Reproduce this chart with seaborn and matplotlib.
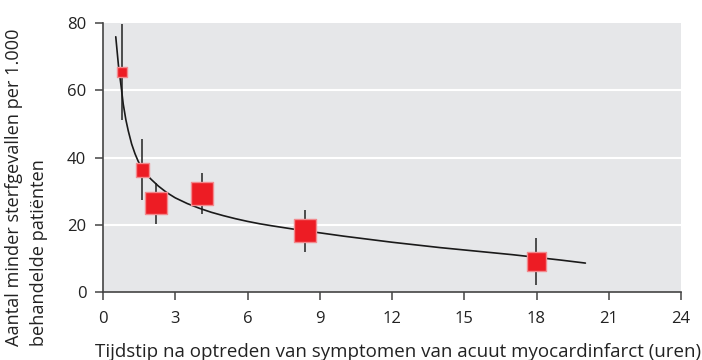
import matplotlib
matplotlib.use("Agg")
import matplotlib.pyplot as plt
import seaborn as sns
import pandas as pd

# Data
hours = [0.79, 1.64, 2.19, 4.12, 8.38, 17.99]
benefit = [65.5, 36.3, 26.4, 29.3, 18.3, 9.1]
ci_low = [51.3, 27.5, 20.3, 23.3, 12.0, 2.1]
ci_high = [79.7, 45.4, 32.5, 35.4, 24.5, 16.2]
study_weight = [7, 10, 16, 16, 16, 13.5]  # relative square size

curve_x = [0.53, 0.64, 0.75, 0.84, 0.95, 1.05, 1.19, 1.33, 1.46, 1.6, 1.8, 2.0, 2.3,
           2.64, 3.0, 3.5, 4.0, 4.5, 5.0, 5.5, 6.0, 6.5, 7.0, 8.0, 9.0, 10.0, 11.0,
           12.0, 13.0, 14.0, 15.0, 16.0, 17.0, 18.0, 19.0, 20.03]
curve_y = [75.9, 67.5, 61.3, 55.9, 51.2, 47.9, 44.0, 41.1, 38.9, 37.0, 35.0, 33.5, 31.5,
           29.6, 28.0, 26.3, 24.9, 23.7, 22.7, 21.8, 21.0, 20.3, 19.7, 18.6, 17.6, 16.6,
           15.7, 14.8, 14.0, 13.2, 12.5, 11.8, 11.1, 10.3, 9.5, 8.6]

xticks = [0, 3, 6, 9, 12, 15, 18, 21, 24]
yticks = [0, 20, 40, 60, 80]

sns.set_theme(style="darkgrid")
plt.rcParams['font.family'] = ['Open Sans', 'DejaVu Sans']

fig = plt.figure(figsize=(7.02, 3.6), dpi=100)
ax = fig.add_axes([103 / 702, 1 - 292 / 360, (681 - 103) / 702, (292 - 23) / 360])
ax.set_facecolor("#e6e7e9")

df = pd.DataFrame({"x": hours, "y": benefit, "w": study_weight})
cdf = pd.DataFrame({"x": curve_x, "y": curve_y})

ax.vlines(hours, ci_low, ci_high, color="#222222", lw=1.1, zorder=2)
sns.lineplot(data=cdf, x="x", y="y", ax=ax, color="#1a1a1a", lw=1.2, zorder=3, sort=False)
sns.scatterplot(data=df, x="x", y="y", size="w", sizes={v: v ** 2 for v in study_weight},
                marker="s", color="#ed1c24", edgecolor="#f28a8e", linewidth=1.0,
                legend=False, ax=ax, zorder=4)

ax.set_xlim(0, 24)
ax.set_ylim(0, 80)
ax.set_xticks(xticks)
ax.set_yticks(yticks)
ax.grid(False)
for yv in [20, 40, 60]:
    ax.axhline(yv, color="white", lw=1.5, zorder=1)

for s in ["top", "right"]:
    ax.spines[s].set_visible(False)
for s in ["left", "bottom"]:
    ax.spines[s].set_visible(True)
    ax.spines[s].set_color("#444444")
    ax.spines[s].set_linewidth(1.2)

ax.tick_params(axis="both", which="both", direction="out", length=6, width=1.1,
               color="#444444", labelsize=12, labelcolor="#222222", bottom=True, left=True)
ax.tick_params(axis="x", pad=8)
ax.tick_params(axis="y", pad=6)

ax.set_xlabel("")
ax.set_ylabel("")
fig.text(398 / 702, 1 - 352 / 360, "Tijdstip na optreden van symptomen van acuut myocardinfarct (uren)",
         ha="center", va="center", fontsize=13.5, color="#222222")
fig.text(5 / 702, 1 - 346 / 360, "Aantal minder sterfgevallen per 1.000\nbehandelde patiënten",
         ha="left", va="bottom", rotation=90, multialignment="left", fontsize=13.1,
         color="#222222", linespacing=1.5)

fig.savefig("out.png", dpi=100)
